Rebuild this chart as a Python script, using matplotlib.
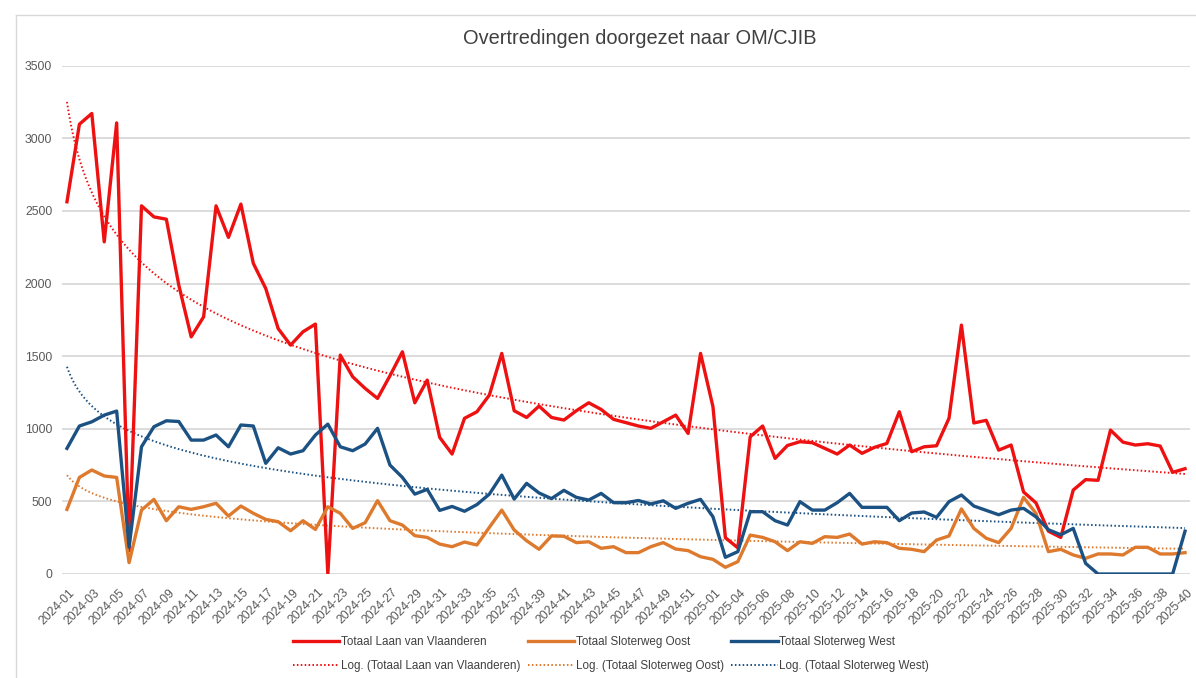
import numpy as np
import matplotlib
matplotlib.use("Agg")
import matplotlib.pyplot as plt
from matplotlib.lines import Line2D

plt.rcParams['font.family'] = ['Liberation Sans', 'DejaVu Sans']

# Week categories (one week missing early 2025)
weeks = ([f"2024-{w:02d}" for w in range(1, 53)] + ["2025-01", "2025-03"]
         + [f"2025-{w:02d}" for w in range(4, 41)])

laan_van_vlaanderen = [
    2563, 3097, 3171, 2287, 3106, 160, 2535, 2459, 2443, 1990,
    1633, 1771, 2535, 2318, 2547, 2139, 1966, 1690, 1576, 1668,
    1721, 0, 1507, 1358, 1278, 1209, 1365, 1530, 1179, 1335,
    941, 826, 1072, 1117, 1232, 1519, 1124, 1078, 1156, 1078,
    1060, 1124, 1179, 1133, 1065, 1042, 1019, 1003, 1048, 1094,
    968, 1519, 1152, 250, 180, 945, 1019, 796, 885, 911,
    904, 865, 826, 888, 831, 872, 899, 1117, 842, 876,
    883, 1072, 1714, 1040, 1058, 853, 888, 565, 490, 295,
    252, 578, 650, 645, 991, 908, 888, 897, 881, 700,
    725]

sloterweg_oost = [
    445, 665, 716, 675, 665, 78, 440, 514, 367, 463,
    445, 463, 487, 399, 468, 418, 376, 360, 298, 367,
    307, 463, 418, 314, 353, 505, 367, 337, 264, 252,
    206, 188, 220, 200, 321, 440, 303, 229, 170, 262,
    260, 216, 222, 177, 188, 147, 147, 188, 216, 172,
    161, 119, 101, 46, 85, 268, 252, 222, 161, 222,
    211, 257, 252, 275, 206, 222, 216, 177, 170, 154,
    234, 262, 448, 314, 246, 216, 314, 528, 418, 154,
    170, 131, 108, 138, 138, 131, 184, 184, 138, 138,
    147]

sloterweg_west = [
    865, 1019, 1048, 1094, 1122, 185, 876, 1014, 1055, 1050,
    922, 922, 957, 876, 1026, 1019, 762, 869, 826, 849,
    957, 1032, 876, 849, 895, 1003, 750, 665, 550, 583,
    438, 465, 432, 478, 550, 681, 516, 624, 558, 519,
    576, 528, 509, 555, 491, 491, 506, 482, 504, 452,
    487, 514, 394, 115, 154, 429, 429, 367, 337, 498,
    440, 440, 491, 555, 459, 459, 459, 367, 420, 427,
    390, 498, 544, 468, 438, 408, 440, 452, 394, 305,
    270, 314, 73, 0, 0, 0, 0, 0, 0, 0,
    295]

series_names = ["Totaal Laan van Vlaanderen", "Totaal Sloterweg Oost", "Totaal Sloterweg West"]
series_values = [laan_van_vlaanderen, sloterweg_oost, sloterweg_west]
series_colors = ["#EE1111", "#DD7A2E", "#1C5283"]

W, H = 1196, 678
fig = plt.figure(figsize=(W / 100, H / 100), dpi=100)
fig.patch.set_facecolor("white")

# chart area border
fig.add_artist(Line2D([15.5 / W, 15.5 / W], [0, 1 - 15 / H], transform=fig.transFigure,
                      color="#D9D9D9", lw=1.0))
fig.add_artist(Line2D([15.5 / W, 1], [1 - 15 / H, 1 - 15 / H], transform=fig.transFigure,
                      color="#D9D9D9", lw=1.0))

left, right = 62 / W, 1190 / W
bottom, top = (H - 574) / H, (H - 65.7) / H
ax = fig.add_axes([left, bottom, right - left, top - bottom])

n = len(weeks)
x = np.arange(n)

handles = []
for name, vals, col in zip(series_names, series_values, series_colors):
    vals = np.asarray(vals, dtype=float)
    h_line, = ax.plot(x, vals, color=col, lw=2.4, solid_joinstyle="round", zorder=3)
    # Excel logarithmic trendline: y = a + b*ln(k), k = 1..n
    b, a = np.polyfit(np.log(x + 1.0), vals, 1)
    xs = np.linspace(1, n, 600)
    h_trend, = ax.plot(xs - 1, a + b * np.log(xs), color=col, lw=1.4,
                       linestyle=(0, (0.8, 1.2)), zorder=2)
    handles.append((h_line, name))
    handles.append((h_trend, f"Log. ({name})"))

ax.set_xlim(-0.4, n - 1 + 0.4)
ax.set_ylim(0, 3500)
ax.set_yticks(np.arange(0, 3501, 500))
ax.yaxis.grid(True, color="#D9D9D9", lw=1.3)
ax.set_axisbelow(True)
for s in ax.spines.values():
    s.set_visible(False)
ax.tick_params(axis="y", length=0, pad=7, labelsize=8.8, labelcolor="#595959")
ax.tick_params(axis="x", length=0, pad=9, labelsize=8.8, labelcolor="#595959")

ax.set_xticks(x[::2])
ax.set_xticklabels(weeks[::2], rotation=45, ha="right", va="top", rotation_mode="anchor")
for lbl in ax.get_xticklabels():
    lbl.set_transform(lbl.get_transform() + matplotlib.transforms.ScaledTranslation(2 / 100, 0, fig.dpi_scale_trans))

fig.text(640 / W, 1 - 38 / H, "Overtredingen doorgezet naar OM/CJIB", ha="center", va="center",
         fontsize=14.4, color="#404040")

leg = fig.legend([h for h, _ in handles], [l for _, l in handles], ncol=3,
                 loc="center", bbox_to_anchor=(611 / W, 1 - 654 / H), frameon=False,
                 fontsize=8.4, handlelength=4.0, handletextpad=0.15, columnspacing=0.6,
                 labelspacing=1.05, labelcolor="#404040")

fig.savefig("out.png", dpi=100, facecolor="white")
